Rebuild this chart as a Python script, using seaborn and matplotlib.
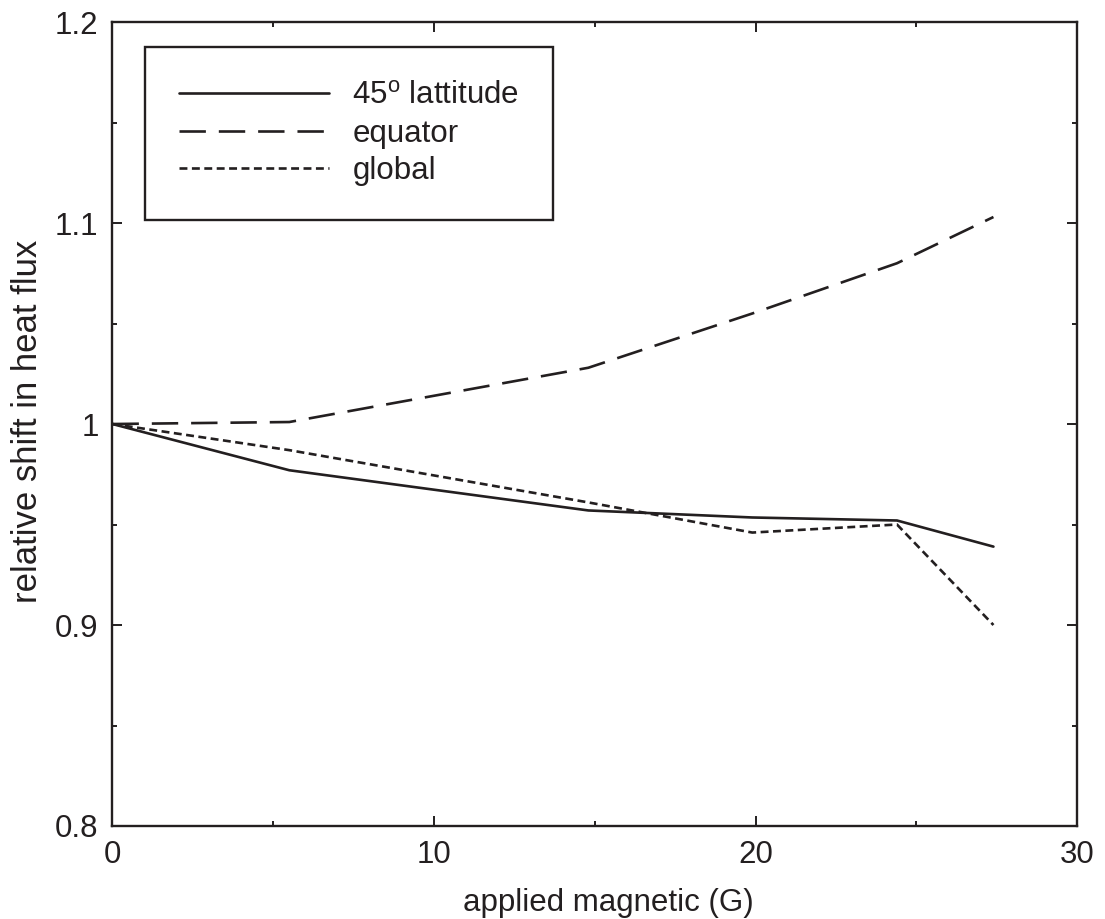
import matplotlib
matplotlib.use("Agg")
import matplotlib.pyplot as plt
from matplotlib.ticker import MultipleLocator, FuncFormatter
import seaborn as sns
import pandas as pd

# Applied field strength (G) and relative heat-flux shift per region
field = [0.0, 5.5, 14.8, 19.9, 24.4, 27.4]
lat45 = [1.000, 0.977, 0.957, 0.9535, 0.952, 0.939]
equator = [1.000, 1.001, 1.028, 1.055, 1.080, 1.103]
global_mean = [1.000, 0.987, 0.961, 0.946, 0.950, 0.900]
series_names = ["45$^\\mathrm{o}$ lattitude", "equator", "global"]

sns.set_theme(style="white")
ink = "#231f20"
plt.rcParams["font.family"] = ["Liberation Sans", "DejaVu Sans"]
plt.rcParams["mathtext.fontset"] = "custom"
plt.rcParams["mathtext.rm"] = "Liberation Sans"
plt.rcParams["text.color"] = ink
plt.rcParams["axes.labelcolor"] = ink
plt.rcParams["xtick.color"] = ink
plt.rcParams["ytick.color"] = ink

fig = plt.figure(figsize=(11.05, 9.19), dpi=100)
ax = fig.add_axes([0.1018, 0.1012, 0.8729, 0.8748])

lw = 1.9
styles = [
    (lat45, "-"),
    (equator, (0, (10.0, 4.9))),
    (global_mean, (0, (3.0, 1.7))),
]
for (vals, ls), name in zip(styles, series_names):
    df = pd.DataFrame({"field": field, "shift": vals})
    sns.lineplot(data=df, x="field", y="shift", ax=ax, color=ink,
                 linewidth=lw, linestyle=ls, label=name)

ax.set_xlim(0, 30)
ax.set_ylim(0.8, 1.2)
ax.xaxis.set_major_locator(MultipleLocator(10))
ax.xaxis.set_minor_locator(MultipleLocator(5))
ax.yaxis.set_major_locator(MultipleLocator(0.1))
ax.yaxis.set_minor_locator(MultipleLocator(0.05))
ax.yaxis.set_major_formatter(FuncFormatter(lambda v, p: f"{v:g}"))
ax.tick_params(which="both", direction="in", top=True, right=True,
               bottom=True, left=True, labelsize=22.5, width=1.4,
               colors=ink)
ax.tick_params(axis="x", which="major", pad=10)
ax.tick_params(axis="y", which="major", pad=10)
ax.tick_params(which="major", length=7.2)
ax.tick_params(which="minor", length=3.6)
for sp in ax.spines.values():
    sp.set_color(ink)
    sp.set_linewidth(1.7)
    sp.set_visible(True)

ax.set_xlabel("applied magnetic (G)", fontsize=22.5)
ax.xaxis.set_label_coords(0.514, -0.077)
ax.set_ylabel("relative shift in heat flux", fontsize=25)
ax.yaxis.set_label_coords(-0.071, 0.503)

leg = ax.legend(loc="upper left", bbox_to_anchor=(0.034, 0.969),
                borderaxespad=0, fontsize=22.5, handlelength=4.8,
                handletextpad=0.75, labelspacing=0.25, borderpad=1.08,
                frameon=True, fancybox=False, edgecolor=ink, framealpha=1)
leg.get_frame().set_linewidth(1.7)
leg.get_frame().set_facecolor("white")
for t in leg.get_texts():
    t.set_color(ink)

fig.savefig("out.png", dpi=100)
